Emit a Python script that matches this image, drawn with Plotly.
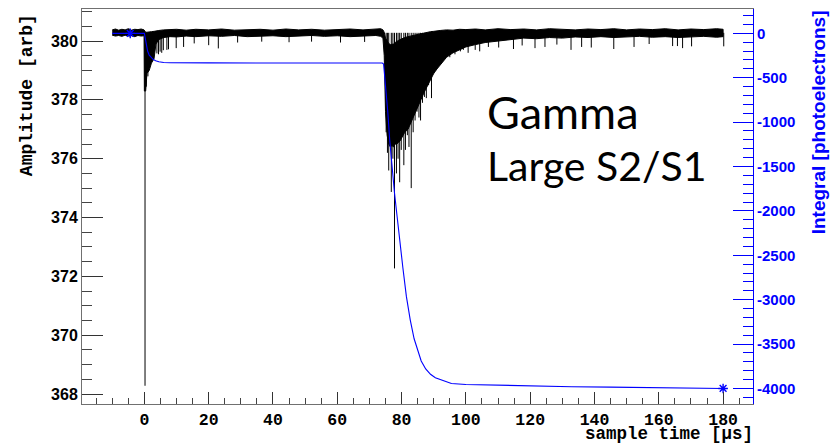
import plotly.graph_objects as go

# ---- waveform (amplitude, arb) : dense band envelope ----
env_t = [-10, -9, -8, -7, -6, -5, -4, -3, -2, -1, -0.1,
         0.0, 0.4, 0.8, 1.5, 2.2, 3.0, 3.6, 4.5, 6, 8, 10, 13, 16, 20, 24, 28, 32,
         36, 40, 44, 48, 52, 56, 60, 64, 68, 72, 73.5,
         74.2, 74.6, 75.0, 75.5, 76.0, 76.5, 77.0, 77.5, 78.0, 78.5, 79.0, 79.5,
         80.0, 80.5, 81.0, 82.0, 83.0, 84.0, 85.0, 86.0, 87.0, 88.0, 89.0, 90.0,
         91.0, 92.0, 94.0, 96.0, 98.0, 100, 103, 106, 110, 114, 118, 122, 126,
         130, 134, 138, 142, 146, 150, 154, 158, 162, 166, 170, 174, 178, 180]
env_hi = [380.38, 380.41, 380.37, 380.40, 380.38, 380.42, 380.37, 380.40, 380.39, 380.41, 380.38,
          380.35, 380.30, 380.30, 380.30, 380.32, 380.33, 380.35, 380.36, 380.38, 380.38, 380.40,
          380.37, 380.40, 380.38, 380.41, 380.37, 380.39, 380.40, 380.37, 380.41, 380.38, 380.40,
          380.37, 380.39, 380.41, 380.38, 380.40, 380.42,
          380.38, 380.30, 380.10, 380.00, 379.92, 379.88, 379.90, 379.90, 379.95, 380.00, 380.02,
          380.05, 380.08, 380.10, 380.12, 380.15, 380.18, 380.20, 380.22, 380.25, 380.27, 380.30,
          380.32, 380.33, 380.35, 380.36, 380.38, 380.37, 380.40, 380.39, 380.41, 380.38, 380.42,
          380.39, 380.41, 380.38, 380.42, 380.40, 380.38, 380.41, 380.39, 380.42, 380.38, 380.41,
          380.39, 380.42, 380.38, 380.41, 380.39, 380.42, 380.40]
env_lo = [380.20, 380.17, 380.19, 380.16, 380.20, 380.17, 380.18, 380.15, 380.19, 380.17, 380.18,
          378.30, 378.30, 378.90, 379.00, 379.25, 379.40, 379.90, 380.05, 380.12, 380.15, 380.14,
          380.17, 380.15, 380.18, 380.16, 380.19, 380.15, 380.17, 380.18, 380.15, 380.17, 380.19,
          380.16, 380.18, 380.15, 380.17, 380.19, 380.16,
          380.10, 379.50, 377.60, 376.80, 376.50, 376.40, 376.45, 376.40, 376.50, 376.50, 376.55,
          376.60, 376.65, 376.80, 376.90, 377.00, 377.25, 377.50, 377.75, 378.00, 378.25, 378.50,
          378.70, 378.90, 379.05, 379.20, 379.45, 379.60, 379.70, 379.80, 379.88, 379.95, 380.00,
          380.05, 380.10, 380.08, 380.12, 380.10, 380.14, 380.12, 380.15, 380.12, 380.14, 380.16,
          380.13, 380.15, 380.12, 380.14, 380.16, 380.13, 380.15]

# ---- waveform : individual downward excursions (time, minimum amplitude) ----
BASE = 380.28
spike_t = [0.2, 0.6, 1.1, 3.9, 4.4, 4.9, 5.4, 5.9, 7.0, 7.5, 9.9, 12.2, 15.5, 20.0, 23.0,
           29.0, 36.5, 45.0, 52.0, 61.0, 68.5,
           75.2, 75.6, 76.0, 76.8, 77.3, 77.8, 78.4, 78.9, 79.4, 79.9, 80.7, 81.2, 81.8,
           82.3, 83.0, 83.6, 84.2, 84.8, 85.4, 85.9, 86.5, 87.1, 87.7, 88.4, 89.3, 90.0,
           90.6, 91.3, 92.0, 92.8, 93.5, 94.3, 95.0, 96.6, 98.3, 99.2, 100.7,
           102.9, 104.3, 107.0, 110.2, 114.8, 117.5,
           121.5, 124.6, 128.3, 132.7, 136.0, 139.0, 146.0, 152.3,
           157.0, 164.3, 165.8, 167.4, 170.2, 180.2]
spike_lo = [368.28, 378.45, 378.80, 379.58, 379.55, 379.64, 379.60, 379.69, 379.70, 379.72, 379.76,
            379.80, 379.92, 379.86, 379.75, 379.95, 379.98, 379.96, 379.98, 379.95, 379.97,
            376.90, 376.20, 375.60, 374.87, 376.00, 372.27, 375.50, 376.00, 375.20, 376.30,
            375.78, 376.30, 376.80, 376.40, 375.00, 376.90, 377.30, 377.60, 377.40, 377.30,
            377.90, 378.10, 378.06, 378.50, 378.06, 378.90, 379.00, 379.47, 379.40, 379.60,
            379.50, 379.55, 379.45, 379.55, 379.65, 379.70, 379.60,
            379.70, 379.65, 379.80, 379.78, 379.73, 379.85,
            379.76, 379.80, 379.88, 379.70, 379.80, 379.78, 379.73, 379.80,
            379.90, 379.83, 379.83, 379.76, 379.82, 379.82]

# ---- integrated charge (photoelectrons) ----
int_t = [-10, -4.4, 0, 0.3, 0.6, 1.0, 1.5, 2.0, 2.7, 3.5, 4.5, 6.0, 8.0, 20, 40, 60, 74.0,
         74.4, 75.0, 75.7, 76.3, 77.0, 77.8, 78.6, 79.4, 80.4, 81.5, 82.7, 83.9, 85.0, 86.1,
         87.5, 89.0, 90.5, 92.4, 95.5, 100, 105, 113, 125, 133, 145, 155, 167, 175, 180]
int_v = [0, 0, 0, -60, -120, -200, -245, -270, -293, -308, -320, -328, -332, -333, -334, -334,
         -335, -345, -560, -880, -1200, -1500, -1800, -2060, -2290, -2640, -2966, -3230,
         -3440, -3580, -3690, -3780, -3840, -3880, -3905, -3945, -3955, -3960, -3968,
         -3975, -3980, -3985, -3990, -3998, -3999, -4000]
mark_t = [-4.4, 180]
mark_v = [0, -4000]

# ---- axes ----
x_ticks = [0, 20, 40, 60, 80, 100, 120, 140, 160, 180]
y_ticks = [368, 370, 372, 374, 376, 378, 380]
y2_ticks = [0, -500, -1000, -1500, -2000, -2500, -3000, -3500, -4000]
y2_labels = ["0", "-500", "-1000", "-1500", "-2000", "-2500", "-3000", "-3500", "-4000"]

BLUE = "#0000ff"

fig = go.Figure()

# dense band of the waveform
fig.add_trace(go.Scatter(
    x=env_t + env_t[::-1], y=env_hi + env_lo[::-1],
    mode="lines", fill="toself", fillcolor="black",
    line=dict(color="black", width=1), hoverinfo="skip"))

# individual excursions
sx, sy = [], []
for t, lo in zip(spike_t, spike_lo):
    sx += [t, t, None]
    sy += [BASE, lo, None]
fig.add_trace(go.Scatter(x=sx, y=sy, mode="lines",
                         line=dict(color="black", width=1), hoverinfo="skip"))

# integral on the right-hand axis
fig.add_trace(go.Scatter(x=int_t, y=int_v, yaxis="y2", mode="lines",
                         line=dict(color=BLUE, width=1.1)))
fig.add_trace(go.Scatter(x=mark_t, y=mark_v, yaxis="y2", mode="markers",
                         marker=dict(symbol="asterisk-open", size=8, color=BLUE,
                                     line=dict(color=BLUE, width=1.4))))

mono = dict(family="Liberation Mono", size=16.5, color="black", weight="bold")
sans = dict(family="Liberation Sans", size=16, color="black", weight="bold")

fig.update_layout(
    width=836, height=445,
    margin=dict(l=82, r=83, t=9, b=41),
    paper_bgcolor="white", plot_bgcolor="white",
    showlegend=False,
    xaxis=dict(
        range=[-19.4, 189.3], showgrid=False, zeroline=False,
        showline=True, linecolor="#707070", linewidth=1, mirror=True,
        ticks="inside", ticklen=12, tickcolor="#333", tickwidth=1,
        tickvals=x_ticks, ticktext=[str(v) for v in x_ticks], tickfont=mono,
        minor=dict(tick0=0, dtick=5, ticks="inside", ticklen=6,
                   tickcolor="#444", showgrid=False),
    ),
    yaxis=dict(
        range=[367.66, 381.09], showgrid=False, zeroline=False,
        showline=True, linecolor="#707070", linewidth=1,
        ticks="inside", ticklen=21, tickcolor="#333", tickwidth=1,
        tickvals=y_ticks, ticktext=[str(v) for v in y_ticks], tickfont=sans,
        minor=dict(tick0=368, dtick=0.5, ticks="inside", ticklen=10,
                   tickcolor="#444", showgrid=False),
    ),
    yaxis2=dict(
        overlaying="y", side="right",
        range=[-4175, 274], showgrid=False, zeroline=False,
        showline=True, linecolor=BLUE, linewidth=1,
        ticks="inside", ticklen=20, tickcolor=BLUE, tickwidth=1,
        tickvals=y2_ticks, ticktext=y2_labels,
        tickfont=dict(family="Liberation Sans", size=15, color=BLUE, weight="bold"),
        minor=dict(tick0=0, dtick=100, ticks="inside", ticklen=10,
                   tickcolor=BLUE, showgrid=False),
    ),
)

ann = [
    dict(text="sample time [µs]", x=1.0015, y=-0.1035, xanchor="right", yanchor="bottom",
         borderpad=0,
         font=dict(family="Liberation Mono", size=17.5, color="black", weight="bold")),
    dict(text="Amplitude [arb]", x=-0.082, y=0.992, xanchor="center", yanchor="top",
         textangle=-90,
         font=dict(family="Liberation Mono", size=18, color="black", weight="bold")),
    dict(text="Integral [photoelectrons]", x=1.097, y=1.002, xanchor="center", yanchor="top",
         textangle=-90,
         font=dict(family="Liberation Sans", size=19, color=BLUE, weight="bold")),
    dict(text="Gamma", x=0.6006, y=0.738, xanchor="left", yanchor="middle",
         font=dict(family="Lato", size=45, color="black")),
    dict(text="Large S2/S1", x=0.6006, y=0.605, xanchor="left", yanchor="middle",
         font=dict(family="Lato", size=41, color="black")),
]
for a in ann:
    a.update(xref="paper", yref="paper", showarrow=False)
fig.update_layout(annotations=ann)

fig.write_html("out.html")
